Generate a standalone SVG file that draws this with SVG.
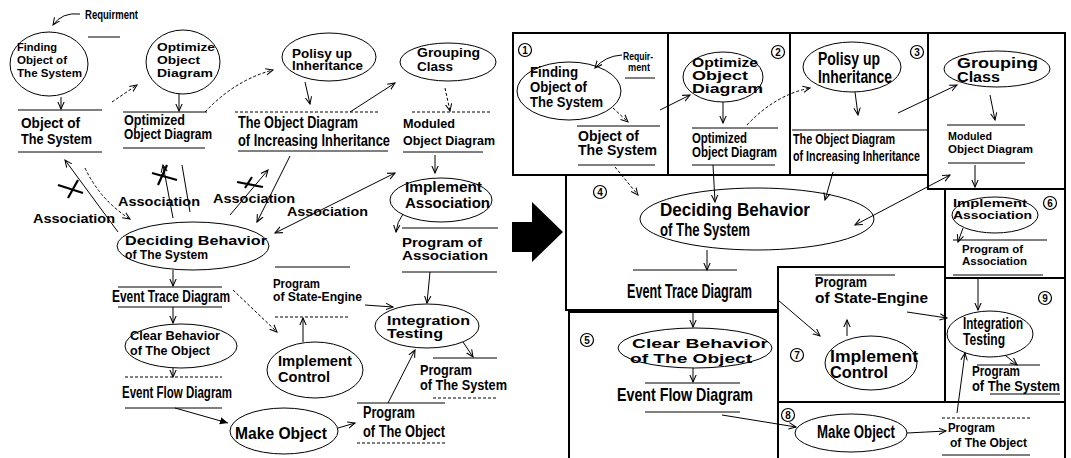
<svg xmlns="http://www.w3.org/2000/svg" width="1071" height="458" viewBox="0 0 1071 458">
<defs>
<marker id="ah" viewBox="0 0 10 10" refX="9" refY="5" markerWidth="8" markerHeight="8" markerUnits="userSpaceOnUse" orient="auto-start-reverse">
<path d="M0,1 L9,5 L0,9" fill="none" stroke="#000" stroke-width="1.3"/>
</marker>
<marker id="ahf" viewBox="0 0 10 10" refX="9" refY="5" markerWidth="9" markerHeight="9" markerUnits="userSpaceOnUse" orient="auto">
<path d="M0,1 L9,5 L0,9 Z" fill="#000"/>
</marker>
</defs>
<style>
text{font-family:"Liberation Sans",Arial,sans-serif;font-weight:bold;fill:#000}
.e{fill:none;stroke:#000;stroke-width:1}
.l{fill:none;stroke:#000;stroke-width:1}
.d{fill:none;stroke:#000;stroke-width:1;stroke-dasharray:3 2}
.a{marker-end:url(#ah)}
.x{stroke:#000;stroke-width:2.2;fill:none}
.bx{fill:none;stroke:#000;stroke-width:2}
.n{font-size:10px;text-anchor:middle}
.c{fill:#fff;stroke:#000;stroke-width:1.2}
</style>
<rect width="1071" height="458" fill="#fff"/>

<!-- ===== flow on the left ===== -->
<g id="requirment-l"><text x="85" y="19" font-size="12" textLength="53" lengthAdjust="spacingAndGlyphs">Requirment</text><line class="l" x1="88" y1="37" x2="120" y2="37"/></g>
<g id="finding-l"><ellipse class="e" cx="49" cy="64" rx="39" ry="32"/>
<text x="17" y="51" font-size="11.5" textLength="40" lengthAdjust="spacingAndGlyphs">Finding</text>
<text x="17" y="64" font-size="11.5" textLength="50" lengthAdjust="spacingAndGlyphs">Object of</text>
<text x="17" y="77" font-size="11.5" textLength="65" lengthAdjust="spacingAndGlyphs">The System</text></g>
<g id="object-system-l"><line class="l" x1="18" y1="110" x2="102" y2="110"/>
<text x="21" y="128" font-size="15" textLength="59" lengthAdjust="spacingAndGlyphs">Object of</text>
<text x="21" y="144" font-size="15" textLength="71" lengthAdjust="spacingAndGlyphs">The System</text>
<line class="l" x1="18" y1="152" x2="102" y2="152"/></g>
<g id="optimize-l"><ellipse class="e" cx="183" cy="62" rx="37" ry="32"/>
<text x="157" y="51" font-size="11.5" textLength="58" lengthAdjust="spacingAndGlyphs">Optimize</text>
<text x="157" y="64" font-size="11.5" textLength="43" lengthAdjust="spacingAndGlyphs">Object</text>
<text x="157" y="77" font-size="11.5" textLength="56" lengthAdjust="spacingAndGlyphs">Diagram</text></g>
<g id="optimized-l"><line class="l" x1="123" y1="112" x2="207" y2="112"/>
<text x="124" y="125" font-size="14" textLength="61" lengthAdjust="spacingAndGlyphs">Optimized</text>
<text x="124" y="139" font-size="14" textLength="88" lengthAdjust="spacingAndGlyphs">Object Diagram</text>
<line class="l" x1="123" y1="148" x2="205" y2="148"/></g>
<g id="polisy-l"><ellipse class="e" cx="329" cy="57" rx="47" ry="24"/>
<text x="292" y="58" font-size="12" textLength="60" lengthAdjust="spacingAndGlyphs">Polisy up</text>
<text x="292" y="70" font-size="12" textLength="71" lengthAdjust="spacingAndGlyphs">Inheritance</text></g>
<g id="inheritance-diagram-l"><line class="d" x1="235" y1="112" x2="378" y2="112"/>
<text x="238" y="128" font-size="16.5" textLength="120" lengthAdjust="spacingAndGlyphs">The Object Diagram</text>
<text x="238" y="146" font-size="16.5" textLength="152" lengthAdjust="spacingAndGlyphs">of Increasing Inheritance</text>
<line class="l" x1="238" y1="151" x2="388" y2="151"/></g>
<g id="grouping-l"><ellipse class="e" cx="448" cy="62" rx="48" ry="19"/>
<text x="417" y="57" font-size="13" textLength="63" lengthAdjust="spacingAndGlyphs">Grouping</text>
<text x="417" y="71" font-size="13" textLength="36" lengthAdjust="spacingAndGlyphs">Class</text></g>
<g id="moduled-l"><line class="d" x1="412" y1="112" x2="490" y2="112"/>
<text x="403" y="128" font-size="13.5" textLength="52" lengthAdjust="spacingAndGlyphs">Moduled</text>
<text x="403" y="145" font-size="13.5" textLength="92" lengthAdjust="spacingAndGlyphs">Object Diagram</text>
<line class="l" x1="403" y1="152" x2="483" y2="152"/></g>
<g id="association-labels-l">
<text x="33" y="223" font-size="13" textLength="82" lengthAdjust="spacingAndGlyphs">Association</text>
<text x="118" y="206" font-size="13" textLength="82" lengthAdjust="spacingAndGlyphs">Association</text>
<text x="213" y="203" font-size="13" textLength="82" lengthAdjust="spacingAndGlyphs">Association</text>
<text x="287" y="216" font-size="13" textLength="81" lengthAdjust="spacingAndGlyphs">Association</text></g>
<g id="deciding-l"><ellipse class="e" cx="193" cy="246" rx="76" ry="24"/>
<text x="125" y="245" font-size="13.5" textLength="142" lengthAdjust="spacingAndGlyphs">Deciding Behavior</text>
<text x="125" y="259" font-size="13.5" textLength="83" lengthAdjust="spacingAndGlyphs">of The System</text></g>
<g id="event-trace-l"><line class="l" x1="118" y1="287" x2="222" y2="287"/>
<text x="112" y="302" font-size="16" textLength="118" lengthAdjust="spacingAndGlyphs">Event Trace Diagram</text>
<line class="l" x1="118" y1="307" x2="222" y2="307"/></g>
<g id="clear-l"><ellipse class="e" cx="181" cy="346" rx="56" ry="22"/>
<text x="130" y="340" font-size="13.5" textLength="90" lengthAdjust="spacingAndGlyphs">Clear Behavior</text>
<text x="130" y="355" font-size="13.5" textLength="80" lengthAdjust="spacingAndGlyphs">of The Object</text></g>
<g id="event-flow-l"><line class="d" x1="125" y1="377" x2="222" y2="377"/>
<text x="122" y="398" font-size="16" textLength="110" lengthAdjust="spacingAndGlyphs">Event Flow Diagram</text>
<line class="l" x1="125" y1="408" x2="222" y2="408"/></g>
<g id="make-l"><ellipse class="e" cx="284" cy="431" rx="54" ry="23"/>
<text x="235" y="439" font-size="17" textLength="92" lengthAdjust="spacingAndGlyphs">Make Object</text></g>
<g id="program-object-l"><line class="l" x1="357" y1="403" x2="445" y2="403"/>
<text x="363" y="418" font-size="16" textLength="52" lengthAdjust="spacingAndGlyphs">Program</text>
<text x="363" y="437" font-size="16" textLength="82" lengthAdjust="spacingAndGlyphs">of The Object</text>
<line class="d" x1="357" y1="443" x2="447" y2="443"/></g>
<g id="integration-l"><ellipse class="e" cx="427" cy="326" rx="52" ry="22"/>
<text x="387" y="325" font-size="12.5" textLength="83" lengthAdjust="spacingAndGlyphs">Integration</text>
<text x="387" y="338" font-size="12.5" textLength="56" lengthAdjust="spacingAndGlyphs">Testing</text></g>
<g id="program-system-l"><line class="l" x1="433" y1="358" x2="497" y2="358"/>
<text x="420" y="375" font-size="14.5" textLength="52" lengthAdjust="spacingAndGlyphs">Program</text>
<text x="420" y="390" font-size="14.5" textLength="87" lengthAdjust="spacingAndGlyphs">of The System</text>
<line class="d" x1="433" y1="398" x2="497" y2="398"/></g>
<g id="control-l"><ellipse class="e" cx="315" cy="370" rx="48" ry="28"/>
<text x="278" y="366" font-size="15" textLength="74" lengthAdjust="spacingAndGlyphs">Implement</text>
<text x="278" y="382" font-size="15" textLength="52" lengthAdjust="spacingAndGlyphs">Control</text></g>
<g id="state-engine-l"><line class="l" x1="275" y1="267" x2="350" y2="267"/>
<text x="273" y="288" font-size="12" textLength="47" lengthAdjust="spacingAndGlyphs">Program</text>
<text x="273" y="301" font-size="12" textLength="89" lengthAdjust="spacingAndGlyphs">of State-Engine</text>
<line class="d" x1="275" y1="317" x2="350" y2="317"/></g>
<g id="impl-assoc-l"><ellipse class="e" cx="441" cy="200" rx="51" ry="22"/>
<text x="405" y="192" font-size="14" textLength="77" lengthAdjust="spacingAndGlyphs">Implement</text>
<text x="405" y="208" font-size="14" textLength="85" lengthAdjust="spacingAndGlyphs">Association</text></g>
<g id="program-assoc-l"><line class="l" x1="402" y1="228" x2="498" y2="228"/>
<text x="402" y="247" font-size="12" textLength="80" lengthAdjust="spacingAndGlyphs">Program of</text>
<text x="402" y="260" font-size="12" textLength="86" lengthAdjust="spacingAndGlyphs">Association</text>
<line class="l" x1="402" y1="272" x2="497" y2="272"/></g>

<!-- transition arrow -->
<g id="big-arrow"><polygon points="512,222 532,222 532,202 563,232 532,262 532,252 512,252" fill="#000"/></g>

<!-- ===== partitioned flow on the right ===== -->
<g id="frames">
<rect class="bx" x="513" y="33" width="155" height="142"/>
<rect class="bx" x="668" y="33" width="122" height="142"/>
<rect class="bx" x="790" y="33" width="138" height="142"/>
<rect class="bx" x="928" y="33" width="137" height="156"/>
<path class="bx" d="M566,175 V310 H778 V267 H945 V189"/>
<rect class="bx" x="945" y="189" width="120" height="89"/>
<rect class="bx" x="945" y="278" width="120" height="124"/>
<rect class="bx" x="778" y="267" width="167" height="135"/>
<path class="bx" d="M569,460 V312 H778 V460"/>
<path class="bx" d="M778,402 H1065 V460"/>
</g>
<g id="num-1"><circle class="c" cx="525" cy="50" r="6.5"/><text class="n" x="525" y="54">1</text></g>
<g id="num-2"><circle class="c" cx="778" cy="52" r="6.5"/><text class="n" x="778" y="56">2</text></g>
<g id="num-3"><circle class="c" cx="917" cy="52" r="6.5"/><text class="n" x="917" y="56">3</text></g>
<g id="num-4"><circle class="c" cx="600" cy="192" r="6.5"/><text class="n" x="600" y="196">4</text></g>
<g id="num-5"><circle class="c" cx="587" cy="340" r="6.5"/><text class="n" x="587" y="344">5</text></g>
<g id="num-6"><circle class="c" cx="1050" cy="203" r="6.5"/><text class="n" x="1050" y="207">6</text></g>
<g id="num-7"><circle class="c" cx="797" cy="355" r="6.5"/><text class="n" x="797" y="359">7</text></g>
<g id="num-8"><circle class="c" cx="788" cy="415" r="6.5"/><text class="n" x="788" y="419">8</text></g>
<g id="num-9"><circle class="c" cx="1045" cy="298" r="6.5"/><text class="n" x="1045" y="302">9</text></g>

<g id="requirment-r"><text x="623" y="60" font-size="10.5" textLength="30" lengthAdjust="spacingAndGlyphs">Requir-</text>
<text x="628" y="71" font-size="10.5" textLength="22" lengthAdjust="spacingAndGlyphs">ment</text>
<line class="l" x1="625" y1="78" x2="655" y2="78"/></g>
<g id="finding-r"><ellipse class="e" cx="569" cy="91" rx="52" ry="29"/>
<text x="530" y="77" font-size="14.5" textLength="48" lengthAdjust="spacingAndGlyphs">Finding</text>
<text x="530" y="92" font-size="14.5" textLength="57" lengthAdjust="spacingAndGlyphs">Object of</text>
<text x="530" y="107" font-size="14.5" textLength="73" lengthAdjust="spacingAndGlyphs">The System</text></g>
<g id="object-system-r"><line class="l" x1="577" y1="126" x2="660" y2="126"/>
<text x="578" y="141" font-size="14.5" textLength="61" lengthAdjust="spacingAndGlyphs">Object of</text>
<text x="578" y="155" font-size="14.5" textLength="79" lengthAdjust="spacingAndGlyphs">The System</text>
<line class="l" x1="578" y1="165" x2="655" y2="165"/></g>
<g id="optimize-r"><ellipse class="e" cx="723" cy="77" rx="40" ry="25"/>
<text x="692" y="67" font-size="12.5" textLength="66" lengthAdjust="spacingAndGlyphs">Optimize</text>
<text x="692" y="80" font-size="12.5" textLength="56" lengthAdjust="spacingAndGlyphs">Object</text>
<text x="692" y="93" font-size="12.5" textLength="71" lengthAdjust="spacingAndGlyphs">Diagram</text></g>
<g id="optimized-r"><line class="l" x1="692" y1="128" x2="778" y2="128"/>
<text x="692" y="143" font-size="14.5" textLength="55" lengthAdjust="spacingAndGlyphs">Optimized</text>
<text x="692" y="157" font-size="14.5" textLength="85" lengthAdjust="spacingAndGlyphs">Object Diagram</text>
<line class="l" x1="692" y1="165" x2="775" y2="165"/></g>
<g id="polisy-r"><ellipse class="e" cx="852" cy="67" rx="49" ry="25"/>
<text x="818" y="65" font-size="17.5" textLength="62" lengthAdjust="spacingAndGlyphs">Polisy up</text>
<text x="818" y="83" font-size="17.5" textLength="74" lengthAdjust="spacingAndGlyphs">Inheritance</text></g>
<g id="inheritance-diagram-r"><line class="l" x1="792" y1="130" x2="928" y2="130"/>
<text x="793" y="144" font-size="15" textLength="102" lengthAdjust="spacingAndGlyphs">The Object Diagram</text>
<text x="793" y="161" font-size="15" textLength="127" lengthAdjust="spacingAndGlyphs">of Increasing Inheritance</text></g>
<g id="grouping-r"><ellipse class="e" cx="997" cy="69" rx="53" ry="18"/>
<text x="957" y="68" font-size="14.5" textLength="81" lengthAdjust="spacingAndGlyphs">Grouping</text>
<text x="957" y="82" font-size="14.5" textLength="43" lengthAdjust="spacingAndGlyphs">Class</text></g>
<g id="moduled-r"><line class="l" x1="947" y1="125" x2="1025" y2="125"/>
<text x="948" y="140" font-size="10.5" textLength="44" lengthAdjust="spacingAndGlyphs">Moduled</text>
<text x="948" y="153" font-size="10.5" textLength="85" lengthAdjust="spacingAndGlyphs">Object Diagram</text>
<line class="l" x1="948" y1="163" x2="1025" y2="163"/></g>
<g id="deciding-r"><ellipse class="e" cx="757" cy="219" rx="117" ry="31"/>
<text x="660" y="216" font-size="19" textLength="150" lengthAdjust="spacingAndGlyphs">Deciding Behavior</text>
<text x="660" y="236" font-size="19" textLength="90" lengthAdjust="spacingAndGlyphs">of The System</text></g>
<g id="event-trace-r"><line class="l" x1="633" y1="270" x2="737" y2="270"/>
<text x="627" y="298" font-size="20" textLength="125" lengthAdjust="spacingAndGlyphs">Event Trace Diagram</text></g>
<g id="impl-assoc-r"><ellipse class="e" cx="995" cy="215" rx="43" ry="18"/>
<text x="953" y="207" font-size="10.5" textLength="74" lengthAdjust="spacingAndGlyphs">Implement</text>
<text x="953" y="219" font-size="10.5" textLength="79" lengthAdjust="spacingAndGlyphs">Association</text></g>
<g id="program-assoc-r"><line class="l" x1="953" y1="240" x2="1047" y2="240"/>
<text x="962" y="253" font-size="10.5" textLength="61" lengthAdjust="spacingAndGlyphs">Program of</text>
<text x="962" y="265" font-size="10.5" textLength="65" lengthAdjust="spacingAndGlyphs">Association</text>
<line class="l" x1="953" y1="275" x2="1043" y2="275"/></g>
<g id="state-engine-r"><line class="l" x1="815" y1="275" x2="895" y2="275"/>
<text x="815" y="287" font-size="14.5" textLength="52" lengthAdjust="spacingAndGlyphs">Program</text>
<text x="815" y="303" font-size="14.5" textLength="113" lengthAdjust="spacingAndGlyphs">of State-Engine</text></g>
<g id="integration-r"><ellipse class="e" cx="990" cy="334" rx="43" ry="23"/>
<text x="963" y="329" font-size="16" textLength="60" lengthAdjust="spacingAndGlyphs">Integration</text>
<text x="963" y="345" font-size="16" textLength="42" lengthAdjust="spacingAndGlyphs">Testing</text></g>
<g id="program-system-r"><line class="l" x1="977" y1="365" x2="1040" y2="365"/>
<text x="972" y="376" font-size="14" textLength="48" lengthAdjust="spacingAndGlyphs">Program</text>
<text x="972" y="391" font-size="14" textLength="88" lengthAdjust="spacingAndGlyphs">of The System</text>
<line class="l" x1="990" y1="394" x2="1060" y2="394"/></g>
<g id="control-r"><ellipse class="e" cx="871" cy="363" rx="46" ry="27"/>
<text x="830" y="362" font-size="16" textLength="88" lengthAdjust="spacingAndGlyphs">Implement</text>
<text x="830" y="378" font-size="16" textLength="58" lengthAdjust="spacingAndGlyphs">Control</text></g>
<g id="clear-r"><ellipse class="e" cx="695" cy="348" rx="77" ry="20"/>
<text x="632" y="348" font-size="13" textLength="136" lengthAdjust="spacingAndGlyphs">Clear Behavior</text>
<text x="630" y="363" font-size="13" textLength="122" lengthAdjust="spacingAndGlyphs">of The Object</text></g>
<g id="event-flow-r"><line class="l" x1="645" y1="383" x2="740" y2="383"/>
<text x="617" y="401" font-size="19" textLength="136" lengthAdjust="spacingAndGlyphs">Event Flow Diagram</text>
<line class="l" x1="645" y1="412" x2="740" y2="412"/></g>
<g id="make-r"><ellipse class="e" cx="851" cy="433" rx="56" ry="19"/>
<text x="817" y="438" font-size="18" textLength="78" lengthAdjust="spacingAndGlyphs">Make Object</text></g>
<g id="program-object-r"><line class="d" x1="942" y1="418" x2="1030" y2="418"/>
<text x="948" y="432" font-size="12" textLength="47" lengthAdjust="spacingAndGlyphs">Program</text>
<text x="950" y="447" font-size="12" textLength="77" lengthAdjust="spacingAndGlyphs">of The Object</text>
<line class="l" x1="942" y1="455" x2="1030" y2="455"/></g>

<!-- ===== connectors ===== -->
<g id="connectors">
<!-- left -->
<path class="l a" d="M80,14 Q62,12 53,25"/>
<line class="l a" x1="61" y1="97" x2="61" y2="109"/>
<line class="d a" x1="112" y1="102" x2="137" y2="85"/>
<line class="l a" x1="179" y1="94" x2="179" y2="111"/>
<path class="d a" d="M205,112 Q235,80 273,70"/>
<line class="l a" x1="305" y1="82" x2="310" y2="104"/>
<line class="l a" x1="350" y1="112" x2="395" y2="83"/>
<line class="d a" x1="445" y1="88" x2="450" y2="111"/>
<line class="l a" x1="118" y1="232" x2="65" y2="160"/>
<path class="x" d="M58,185 L83,193 M68,198 L78,180"/>
<path class="d a" d="M85,168 Q100,200 130,219"/>
<line class="l a" x1="173" y1="218" x2="163" y2="165"/>
<path class="x" d="M152,173 L177,180 M158,185 L167,165"/>
<line class="l" x1="182" y1="165" x2="190" y2="212"/>
<line class="l a" x1="230" y1="215" x2="268" y2="170"/>
<path class="x" d="M237,182 L263,187 M245,188 L252,177"/>
<line class="l a" x1="290" y1="156" x2="257" y2="222"/>
<line class="l a" x1="395" y1="173" x2="275" y2="233" style="marker-start:url(#ah)"/>
<line class="l a" x1="435" y1="155" x2="435" y2="173"/>
<path class="l a" d="M403,214 Q397,222 396,232"/>
<line class="l a" x1="430" y1="272" x2="427" y2="303"/>
<line class="l a" x1="173" y1="270" x2="173" y2="286"/>
<line class="l a" x1="173" y1="307" x2="173" y2="323"/>
<line class="l a" x1="173" y1="368" x2="173" y2="377"/>
<line class="l" x1="175" y1="408" x2="228" y2="423" stroke-width="2.2" marker-end="url(#ahf)"/>
<line class="d a" x1="233" y1="290" x2="277" y2="332"/>
<line class="l a" x1="303" y1="342" x2="303" y2="318"/>
<line class="l a" x1="365" y1="305" x2="393" y2="307"/>
<line class="l a" x1="338" y1="428" x2="355" y2="423"/>
<line class="l a" x1="388" y1="403" x2="415" y2="350"/>
<line class="l a" x1="463" y1="342" x2="473" y2="357"/>
<!-- right -->
<path class="l a" d="M622,55 Q605,56 595,68"/>
<line class="d a" x1="613" y1="108" x2="628" y2="122"/>
<line class="l a" x1="660" y1="110" x2="690" y2="95"/>
<line class="l a" x1="723" y1="102" x2="723" y2="123"/>
<path class="d a" d="M747,125 Q775,95 810,88"/>
<line class="l a" x1="855" y1="92" x2="858" y2="115"/>
<line class="l a" x1="898" y1="113" x2="957" y2="85"/>
<line class="l a" x1="990" y1="95" x2="995" y2="120"/>
<line class="l a" x1="975" y1="165" x2="975" y2="187"/>
<line class="l a" x1="950" y1="175" x2="855" y2="225" style="marker-start:url(#ah)"/>
<line class="d a" x1="615" y1="167" x2="638" y2="195"/>
<line class="l a" x1="713" y1="165" x2="715" y2="202"/>
<line class="l a" x1="833" y1="172" x2="825" y2="200"/>
<line class="l a" x1="707" y1="250" x2="707" y2="270"/>
<line class="l a" x1="963" y1="228" x2="958" y2="242"/>
<line class="l a" x1="978" y1="278" x2="978" y2="310"/>
<line class="l a" x1="693" y1="312" x2="693" y2="327"/>
<line class="l a" x1="693" y1="368" x2="693" y2="382"/>
<line class="l a" x1="722" y1="415" x2="796" y2="427"/>
<line class="l a" x1="778" y1="300" x2="820" y2="336"/>
<line class="l a" x1="847" y1="336" x2="847" y2="320"/>
<line class="l a" x1="907" y1="312" x2="947" y2="318"/>
<line class="l a" x1="907" y1="433" x2="946" y2="431"/>
<line class="l a" x1="957" y1="413" x2="965" y2="353"/>
<line class="l a" x1="1005" y1="355" x2="1017" y2="365"/>
</g>
</svg>
